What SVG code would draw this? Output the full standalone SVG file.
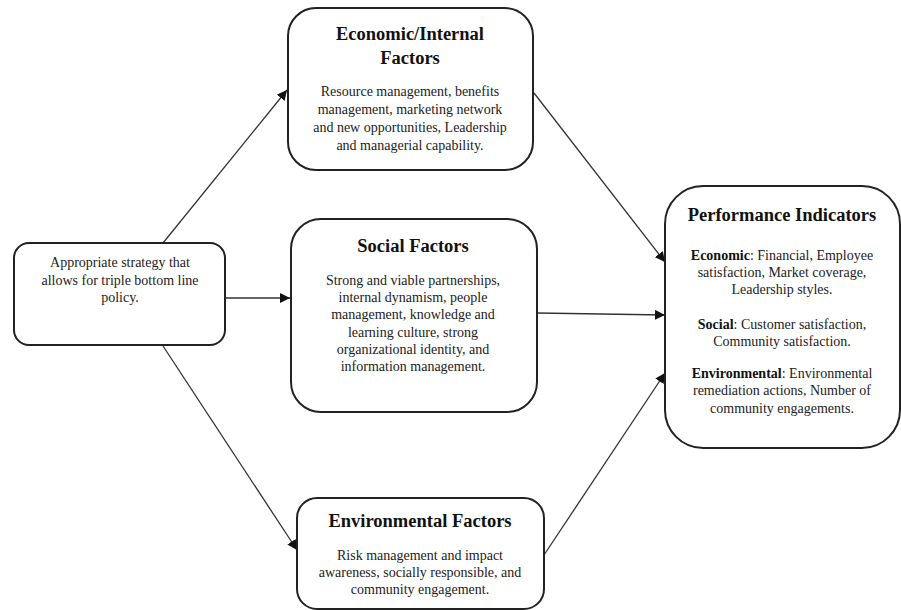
<svg xmlns="http://www.w3.org/2000/svg" width="901" height="610" viewBox="0 0 901 610">
<defs>
<marker id="arr" viewBox="0 0 10 10" refX="10" refY="5" markerWidth="10" markerHeight="10" markerUnits="userSpaceOnUse" orient="auto">
<path d="M0,0 L10,5 L0,10 z" fill="#111"/>
</marker>
<style>
.box{fill:#fff;stroke:#222;stroke-width:2}
.t{font-family:"Liberation Serif","Times New Roman",serif;font-size:18.5px;font-weight:bold;fill:#111;text-anchor:middle}
.b{font-family:"Liberation Serif","Times New Roman",serif;font-size:14px;fill:#222;text-anchor:middle}
.bb{font-weight:bold;fill:#111}
.c{stroke:#333;stroke-width:1.3;fill:none;marker-end:url(#arr)}
</style>
</defs>
<rect width="901" height="610" fill="#fff"/>
<g id="connectors">
<line class="c" x1="163" y1="243" x2="287" y2="90"/>
<line class="c" x1="225" y1="298" x2="290" y2="298"/>
<line class="c" x1="163" y1="346" x2="297" y2="550"/>
<line class="c" x1="534" y1="93" x2="665" y2="262"/>
<line class="c" x1="537" y1="313" x2="665" y2="315"/>
<line class="c" x1="544" y1="555" x2="665" y2="373"/>
</g>
<g id="strategy">
<rect class="box" x="14" y="243" width="211" height="102" rx="15"/>
<text class="b" x="120" y="267">Appropriate strategy that</text>
<text class="b" x="120" y="285">allows for triple bottom line</text>
<text class="b" x="120" y="302">policy.</text>
</g>
<g id="economic">
<rect class="box" x="288" y="8" width="245" height="162" rx="28"/>
<text class="t" x="410" y="40">Economic/Internal</text>
<text class="t" x="410" y="64">Factors</text>
<text class="b" x="410" y="96">Resource management, benefits</text>
<text class="b" x="410" y="114">management, marketing network</text>
<text class="b" x="410" y="132">and new opportunities, Leadership</text>
<text class="b" x="410" y="150">and managerial capability.</text>
</g>
<g id="social">
<rect class="box" x="291" y="219" width="246" height="193" rx="30"/>
<text class="t" x="413" y="252">Social Factors</text>
<text class="b" x="413" y="285">Strong and viable partnerships,</text>
<text class="b" x="413" y="302">internal dynamism, people</text>
<text class="b" x="413" y="319">management, knowledge and</text>
<text class="b" x="413" y="337">learning culture, strong</text>
<text class="b" x="413" y="354">organizational identity, and</text>
<text class="b" x="413" y="371">information management.</text>
</g>
<g id="environmental">
<rect class="box" x="297" y="498" width="247" height="111" rx="20"/>
<text class="t" x="420" y="527">Environmental Factors</text>
<text class="b" x="420" y="560">Risk management and impact</text>
<text class="b" x="420" y="577">awareness, socially responsible, and</text>
<text class="b" x="420" y="594">community engagement.</text>
</g>
<g id="performance">
<rect class="box" x="665" y="186" width="235" height="262" rx="38"/>
<text class="t" x="782" y="221">Performance Indicators</text>
<text class="b" x="782" y="260"><tspan class="bb">Economic</tspan>: Financial, Employee</text>
<text class="b" x="782" y="277">satisfaction, Market coverage,</text>
<text class="b" x="782" y="294">Leadership styles.</text>
<text class="b" x="782" y="329"><tspan class="bb">Social</tspan>: Customer satisfaction,</text>
<text class="b" x="782" y="346">Community satisfaction.</text>
<text class="b" x="782" y="378"><tspan class="bb">Environmental</tspan>: Environmental</text>
<text class="b" x="782" y="395">remediation actions, Number of</text>
<text class="b" x="782" y="413">community engagements.</text>
</g>
</svg>
